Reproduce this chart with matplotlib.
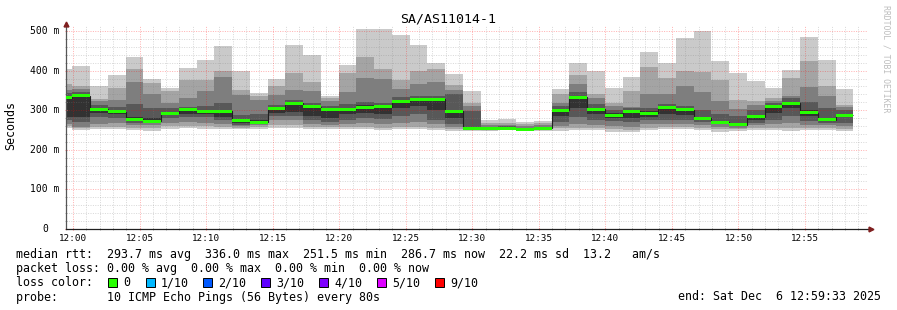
import matplotlib
matplotlib.use('Agg')
import matplotlib.pyplot as plt
from matplotlib.patches import Rectangle
from matplotlib.transforms import blended_transform_factory
import numpy as np

W, H = 897, 310
MONO = 'DejaVu Sans Mono'

# 10 sorted pings (ms) for every 80 s step, first one is the partial step at the left edge
pings = [
    [254, 260, 266, 275, 284, 336, 343, 352, 365, 405],
    [250, 254, 258, 271, 283, 342, 346, 353, 361, 411],
    [252, 258, 265, 283, 292, 305, 312, 322, 328, 362],
    [252, 258, 268, 280, 290, 300, 309, 325, 355, 389],
    [250, 256, 262, 268, 273, 282, 315, 372, 404, 435],
    [248, 255, 262, 268, 270, 280, 305, 342, 368, 380],
    [253, 260, 268, 280, 287, 295, 306, 317, 348, 355],
    [254, 260, 270, 283, 290, 305, 309, 331, 376, 407],
    [253, 260, 268, 282, 290, 300, 310, 348, 376, 427],
    [252, 258, 265, 275, 284, 300, 317, 384, 399, 463],
    [252, 256, 260, 263, 267, 278, 288, 338, 351, 398],
    [253, 257, 262, 266, 268, 274, 290, 325, 336, 344],
    [255, 262, 275, 285, 292, 308, 314, 338, 362, 380],
    [255, 262, 275, 285, 295, 320, 325, 351, 393, 465],
    [252, 258, 265, 275, 285, 312, 318, 349, 372, 440],
    [252, 258, 262, 270, 280, 305, 310, 323, 331, 337],
    [253, 258, 265, 275, 290, 305, 315, 347, 393, 415],
    [252, 258, 268, 280, 292, 312, 320, 382, 435, 505],
    [250, 256, 265, 278, 290, 312, 318, 380, 405, 505],
    [252, 258, 268, 285, 305, 327, 333, 353, 376, 490],
    [252, 258, 270, 290, 310, 330, 337, 365, 400, 465],
    [250, 256, 265, 275, 300, 331, 337, 372, 403, 420],
    [248, 252, 258, 265, 280, 300, 342, 350, 364, 392],
    [248, 250, 252, 252, 253, 258, 298, 310, 317, 348],
    [248, 249, 250, 251, 252, 255, 258, 262, 268, 276],
    [249, 250, 251, 252, 254, 257, 259, 262, 268, 277],
    [247, 248, 249, 250, 251, 253, 256, 260, 264, 270],
    [248, 249, 250, 251, 253, 256, 258, 262, 267, 273],
    [248, 254, 260, 270, 285, 302, 310, 317, 342, 353],
    [250, 256, 265, 282, 305, 335, 345, 365, 389, 420],
    [250, 256, 262, 275, 290, 305, 315, 330, 340, 400],
    [246, 252, 260, 272, 280, 292, 300, 310, 317, 355],
    [245, 250, 258, 270, 280, 298, 305, 309, 348, 383],
    [250, 256, 265, 275, 283, 297, 305, 342, 410, 447],
    [252, 258, 265, 276, 290, 308, 315, 342, 382, 420],
    [252, 258, 265, 275, 288, 303, 310, 362, 400, 482],
    [250, 255, 262, 270, 276, 284, 300, 347, 397, 500],
    [246, 252, 258, 264, 266, 272, 290, 323, 376, 425],
    [248, 252, 256, 259, 261, 267, 285, 303, 326, 393],
    [250, 255, 262, 268, 276, 288, 300, 313, 323, 373],
    [250, 256, 265, 275, 293, 312, 318, 322, 331, 355],
    [248, 256, 268, 285, 305, 320, 330, 336, 382, 402],
    [250, 256, 262, 272, 285, 300, 320, 358, 423, 485],
    [250, 256, 262, 268, 272, 280, 306, 336, 361, 427],
    [248, 253, 260, 268, 282, 290, 300, 307, 313, 354],
]
medians = [331, 336, 302, 296, 277, 272, 292, 301, 296, 297, 274, 270, 304, 317, 309,
           301, 302, 308, 309, 323, 326, 328, 297, 254, 253, 255, 251.5, 254, 300, 333,
           303, 287, 297, 292, 306, 301, 280, 270, 263, 283, 310, 318, 293, 276, 286.7]

first_edge = -1.371       # minutes after 12:00 where the partial first step begins
step_min = 80 / 60        # one probe every 80 s

tick_labels = ['12:00', '12:05', '12:10', '12:15', '12:20', '12:25',
               '12:30', '12:35', '12:40', '12:45', '12:50', '12:55']
y_labels = ['0', '100 m', '200 m', '300 m', '400 m', '500 m']

loss_labels = ['0', '1/10', '2/10', '3/10', '4/10', '5/10', '9/10']
loss_colors = ['#26ff00', '#00b8ff', '#0059ff', '#5e00ff', '#7e00ff', '#dd00ff', '#ff0000']
smoke_colors = ['#cacaca', '#a4a4a4', '#7e7e7e', '#585858', '#323232']


def fx(x):
    return x / W


def fy(y):
    return 1 - y / H


fig = plt.figure(figsize=(W / 100, H / 100), dpi=100)
ax = fig.add_axes([fx(66), fy(229), (868 - 66) / W, (229 - 26) / H])
ax.set_xlim(-0.526, 59.73)
ax.set_ylim(0, 512.6)

p = np.array(pings, dtype=float)
med = np.array(medians)
edges = first_edge + step_min * np.arange(len(medians) + 1)

# smoke: band k goes from the k-th fastest to the k-th slowest ping
for k, c in enumerate(smoke_colors):
    ax.stairs(p[:, 9 - k], edges, baseline=p[:, k], fill=True, color=c,
              lw=0, antialiased=False, zorder=1)

# grid, drawn over the smoke like rrdtool does
for v in np.arange(20, 520, 20):
    major = v % 100 == 0
    ax.axhline(v, color='#ff0000' if major else '#808080', alpha=0.3,
               lw=0.72, ls=(0, (1, 1.4)), zorder=2)
for m in np.arange(0, 60, 1):
    major = m % 5 == 0
    ax.axvline(m, color='#ff0000' if major else '#808080', alpha=0.3,
               lw=0.72, ls=(0, (1, 1.4)), zorder=2)

# median line + loss coloured band
sw = 3.8
ax.stairs(med, edges, baseline=None, color='#202020', lw=0.8, zorder=3)
ax.stairs(med + sw, edges, baseline=med - sw, fill=True, color=loss_colors[0],
          lw=0, antialiased=False, zorder=4)

for s in ['top', 'right']:
    ax.spines[s].set_visible(False)
ax.spines['left'].set_color('#555555')
ax.spines['bottom'].set_color('#202020')
ax.spines['left'].set_linewidth(0.9)
ax.spines['bottom'].set_linewidth(0.9)

# axis arrows
ax.plot([-0.526, -0.526], [512.6, 517], color='#555555', lw=0.9, clip_on=False, zorder=5)
ax.plot([-0.526], [518.5], marker='^', ms=3.5, color='#7f1f1f', clip_on=False, zorder=6)
ax.plot([59.73, 59.8], [0, 0], color='#202020', lw=0.9, clip_on=False, zorder=5)
ax.plot([59.95], [0], marker='>', ms=3.5, color='#7f1f1f', clip_on=False, zorder=6)

ax.set_xticks(np.arange(0, 60, 5))
ax.set_xticks(np.arange(0, 60, 1), minor=True)
ax.set_xticklabels(tick_labels, fontsize=6.7, family=MONO)
ax.set_yticks(np.arange(0, 600, 100))
ax.set_yticks(np.arange(0, 520, 20), minor=True)
ax.set_yticklabels([])
ax.tick_params(axis='x', which='major', length=2, direction='inout', color='#ff8080', pad=2.5)
ax.tick_params(axis='x', which='minor', length=2, direction='inout', color='#a0a0a0')
ax.tick_params(axis='y', which='major', length=2, direction='inout', color='#ff8080')
ax.tick_params(axis='y', which='minor', length=2, direction='inout', color='#a0a0a0')

trans = blended_transform_factory(fig.transFigure, ax.transData)
for v, lab in zip(np.arange(0, 600, 100), y_labels):
    ax.text(fx(45), v, lab, transform=trans, ha='center', va='center',
            fontsize=7, family=MONO)

fig.text(fx(448), fy(19), 'SA/AS11014-1', ha='center', va='center', fontsize=9.5, family=MONO)
fig.text(fx(11), fy(126), 'Seconds', rotation=90, ha='center', va='center',
         fontsize=8.4, family=MONO)
fig.text(fx(886), fy(5), 'RRDTOOL / TOBI OETIKER', rotation=270, ha='center', va='top',
         fontsize=5.9, family=MONO, color='#bdbdbd')

# legend block
fs = 8.4
fig.text(fx(16), fy(258),
         'median rtt:  293.7 ms avg  336.0 ms max  251.5 ms min  286.7 ms now  22.2 ms sd  13.2   am/s',
         va='baseline', fontsize=fs, family=MONO)
fig.text(fx(16), fy(272),
         'packet loss: 0.00 % avg  0.00 % max  0.00 % min  0.00 % now',
         va='baseline', fontsize=fs, family=MONO)
fig.text(fx(16), fy(286.5), 'loss color:', va='baseline', fontsize=fs, family=MONO)
box_x = [108, 146, 203, 261, 319, 377, 435]
for bx, lab, col in zip(box_x, loss_labels, loss_colors):
    fig.patches.append(Rectangle((fx(bx), fy(287)), 9 / W, 9 / H, transform=fig.transFigure,
                                 facecolor=col, edgecolor='black', lw=0.7))
    fig.text(fx(bx + 15), fy(286.5), lab, va='baseline', fontsize=fs, family=MONO)
fig.text(fx(16), fy(300.5), 'probe:       10 ICMP Echo Pings (56 Bytes) every 80s',
         va='baseline', fontsize=fs, family=MONO)
fig.text(fx(881), fy(300.5), 'end: Sat Dec  6 12:59:33 2025', ha='right',
         va='baseline', fontsize=fs, family=MONO)

fig.savefig('out.png', dpi=100)
